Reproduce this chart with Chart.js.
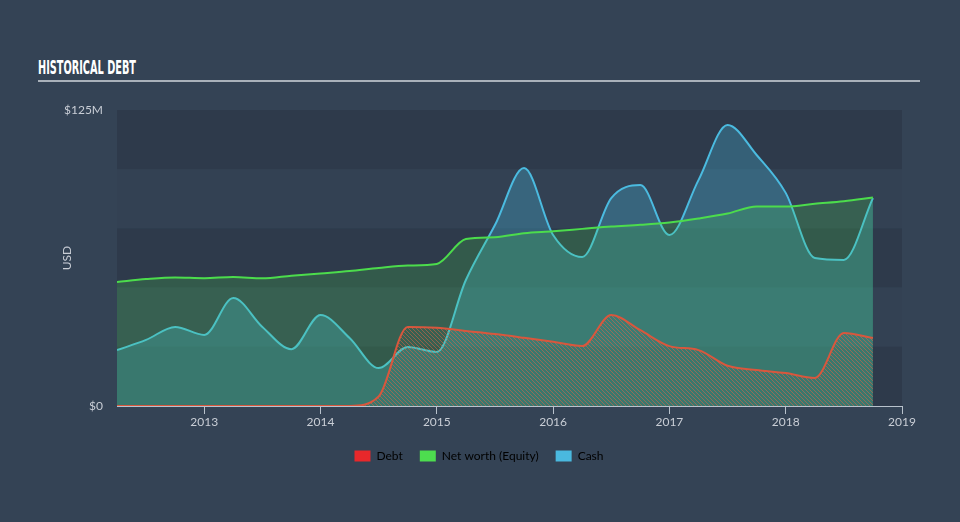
<!DOCTYPE html>
<html><head><meta charset="utf-8">
<script src="https://cdn.jsdelivr.net/npm/chart.js@4.4.1/dist/chart.umd.min.js"></script>
<style>
html,body{margin:0;padding:0;background:#344355;width:960px;height:522px;overflow:hidden}
#title{position:absolute;left:38px;top:57px;font-family:'DejaVu Sans Condensed','DejaVu Sans',sans-serif;font-weight:bold;font-size:20px;line-height:20px;color:#ffffff;white-space:nowrap;transform-origin:0 0}
#rule{position:absolute;left:38px;top:80px;width:882px;height:2px;background:#a9b1ba}
#c{position:absolute;left:0;top:0}
</style></head><body>
<div id="title">HISTORICAL DEBT</div>
<div id="rule"></div>
<canvas id="c" width="960" height="522"></canvas>
<script>
// ---- data (millions USD, quarterly, x in decimal years) ----
const quarters = [2012.25,2012.5,2012.75,2013.0,2013.25,2013.5,2013.75,2014.0,2014.25,2014.5,2014.75,2015.0,2015.25,2015.5,2015.75,2016.0,2016.25,2016.5,2016.75,2017.0,2017.25,2017.5,2017.75,2018.0,2018.25,2018.5,2018.75];
const debt   = [0,0,0,0,0,0,0,0,0,4,33.4,33.0,31.7,30.4,28.8,27.1,25.3,38.4,32.0,25.3,23.6,17.0,15.2,13.9,11.8,30.8,28.7];
const equity = [52.4,53.6,54.3,54.0,54.5,53.9,55.0,56.0,57.0,58.3,59.3,60.0,70.5,71.3,73.0,73.8,74.8,75.8,76.5,77.5,79.2,81.3,84.3,84.2,85.4,86.5,88.0];
const cash   = [23.6,27.9,33.4,30.0,45.6,33.4,24.0,38.4,28.7,16.0,24.9,22.8,53.2,76.4,100.5,72.2,62.9,87.8,93.3,72.2,95.4,118.7,106.0,90.0,62.5,61.7,87.8];
const seriesNames = ['Debt','Net worth (Equity)','Cash'];
const xTickYears = [2013,2014,2015,2016,2017,2018,2019];
const yTickValues = [0,25,50,75,100,125];
const yTickLabels = {0:'$0',125:'$125M'};

// fit title width
const t = document.getElementById('title');
t.style.transform = 'scaleX(' + (98 / t.getBoundingClientRect().width) + ')';

function pts(arr){ return arr.map((v,i)=>({x:quarters[i], y:v})); }

// hatch pattern for debt
const pc = document.createElement('canvas');
pc.width = 4; pc.height = 4;
const pctx = pc.getContext('2d');
pctx.strokeStyle = 'rgba(222,100,70,0.55)';
pctx.lineWidth = 1;
pctx.beginPath();
pctx.moveTo(0,0); pctx.lineTo(4,4);
pctx.moveTo(-1,3); pctx.lineTo(1,5);
pctx.moveTo(3,-1); pctx.lineTo(5,1);
pctx.stroke();
const ctx = document.getElementById('c').getContext('2d');
const hatch = ctx.createPattern(pc,'repeat');

const legendColors = ['#e8282b','#4ddd4f','#4ab9df'];

const bands = {
  id:'bands',
  beforeDatasetsDraw(chart){
    const {ctx, chartArea:a, scales:{y}} = chart;
    ctx.save();
    for(let i=0;i<yTickValues.length-1;i++){
      const top = y.getPixelForValue(yTickValues[yTickValues.length-1-i]);
      const bot = y.getPixelForValue(yTickValues[yTickValues.length-2-i]);
      ctx.fillStyle = (i%2===0) ? '#2e3a4b' : '#334153';
      ctx.fillRect(a.left, top, a.right-a.left, bot-top);
    }
    ctx.restore();
  }
};

Chart.defaults.font.family = "Lato, 'Open Sans', sans-serif";
Chart.defaults.font.size = 12;
Chart.defaults.color = '#c9ced6';

new Chart(ctx, {
  type:'line',
  data:{
    datasets:[
      {label:seriesNames[0], data:pts(debt), borderColor:'#d9573d', backgroundColor:hatch, fill:'origin', borderWidth:2, pointRadius:0, cubicInterpolationMode:'monotone'},
      {label:seriesNames[1], data:pts(equity), borderColor:'#4cdc4c', backgroundColor:'rgba(76,220,76,0.2)', fill:'origin', borderWidth:2, pointRadius:0, cubicInterpolationMode:'monotone'},
      {label:seriesNames[2], data:pts(cash), borderColor:'#4bbbe0', backgroundColor:'rgba(71,187,223,0.3)', fill:'origin', borderWidth:2, pointRadius:0, cubicInterpolationMode:'monotone'}
    ]
  },
  options:{
    responsive:false,
    animation:false,
    layout:{padding:{left:56,right:58,top:110,bottom:50}},
    plugins:{
      tooltip:{enabled:false},
      legend:{
        position:'bottom',
        labels:{
          boxWidth:16, boxHeight:11, padding:17, color:'#d4d8de',
          font:{size:12},
          generateLabels(chart){
            return chart.data.datasets.map((d,i)=>({text:d.label, fillStyle:legendColors[i], strokeStyle:legendColors[i], lineWidth:0, datasetIndex:i, hidden:false}));
          }
        }
      }
    },
    scales:{
      x:{
        type:'linear', min:2012.25, max:2019,
        afterBuildTicks(axis){ axis.ticks = xTickYears.map(v=>({value:v})); },
        afterFit(axis){ axis.height = 27; },
        ticks:{callback:v=>String(v), padding:1, maxRotation:0, color:'#c9ced6'},
        grid:{display:true, drawOnChartArea:false, drawTicks:true, tickLength:8, color:'#b8c2cc', lineWidth:1},
        border:{display:true, color:'#b8c2cc', width:1}
      },
      y:{
        type:'linear', min:0, max:125,
        afterBuildTicks(axis){ axis.ticks = yTickValues.map(v=>({value:v})); },
        afterFit(axis){ axis.width = 61; },
        ticks:{callback:v=>yTickLabels[v]||'', padding:14, color:'#c9ced6'},
        grid:{display:false, drawTicks:false},
        border:{display:false},
        title:{display:true, text:'USD', color:'#c9ced6', font:{size:12}, padding:{top:4,bottom:0}}
      }
    }
  },
  plugins:[bands]
});
</script>
</body></html>
